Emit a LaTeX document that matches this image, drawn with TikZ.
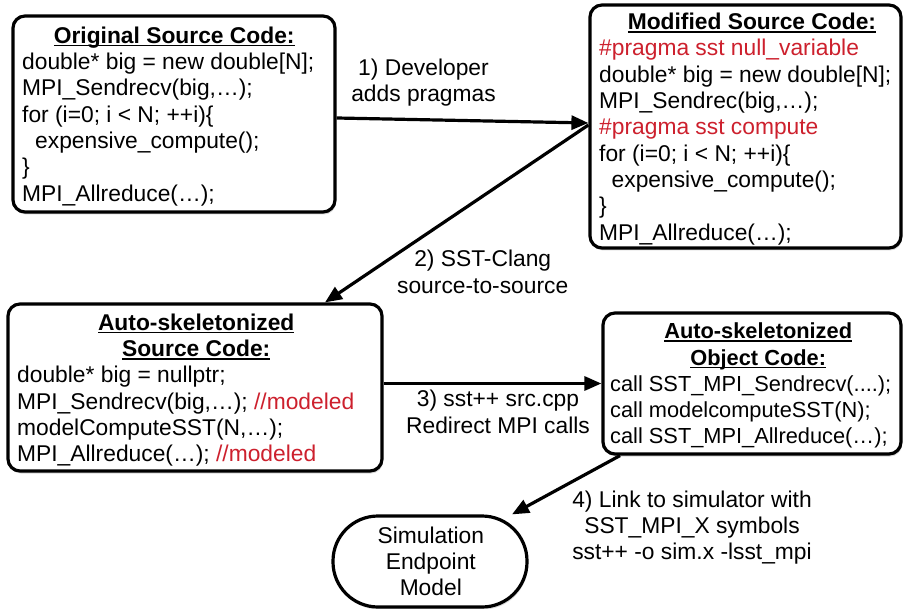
\documentclass[tikz,border=0pt]{standalone}
\usepackage{fontspec}
\setmainfont{Liberation Sans}
\usetikzlibrary{arrows.meta,shadows}
\definecolor{sstred}{RGB}{205,32,45}
\newcommand{\ultext}[1]{\setbox0\hbox{#1}\rlap{\rule[-3.2pt]{\wd0}{1.5pt}}\box0}
\begin{document}
\begin{tikzpicture}[x=1pt,y=-1pt,
  box/.style={draw=black, line width=3.2pt, rounded corners=12pt, fill=white, inner sep=0pt,
    drop shadow={shadow xshift=1pt, shadow yshift=-2.5pt, opacity=0.3}},
  code/.style={anchor=north west, inner sep=0pt, align=left, font=\fontsize{22.8}{26.3}\selectfont},
  lbl/.style={anchor=north, inner sep=0pt, align=center, font=\fontsize{22.8}{26.3}\selectfont},
  arr/.style={line width=3.2pt, -{Triangle[length=17pt,width=14pt]}}]
\fill[white] (0,0) rectangle (904,609);
\useasboundingbox (0,0) rectangle (904,609);

% boxes
\node[box, minimum width=322pt, minimum height=196pt] (orig) at (174,114) {};
\node[box, minimum width=311pt, minimum height=243pt] (mod) at (745.5,126.5) {};
\node[box, minimum width=374pt, minimum height=167pt] (skel) at (195,387.5) {};
\node[box, minimum width=298pt, minimum height=141pt] (obj) at (752,383.5) {};
\node[box, rounded corners=45pt, minimum width=194pt, minimum height=91pt] (sim) at (430,561.5) {};

% box texts
\node[code] (origtxt) at (22,24.6) {\strut\makebox[304pt]{\ultext{\bfseries Original Source Code:}}\\
\strut double* big = new double[N];\\
\strut MPI\_Sendrecv(big,…);\\
\strut for (i=0; i < N; ++i)\{\\
\strut\hspace*{13pt}expensive\_compute();\\
\strut\}\\
\strut MPI\_Allreduce(…);};

\node[code] (modtxt) at (599,11) {\strut\makebox[305.4pt]{\ultext{\bfseries Modified Source Code:}}\\
\strut\textcolor{sstred}{\#pragma sst null\_variable}\\
\strut double* big = new double[N];\\
\strut MPI\_Sendrec(big,…);\\
\strut\textcolor{sstred}{\#pragma sst compute}\\
\strut for (i=0; i < N; ++i)\{\\
\strut\hspace*{12.5pt}expensive\_compute();\\
\strut\}\\
\strut MPI\_Allreduce(…);};

\node[code] (skeltxt) at (17,311.6) {\strut\makebox[358pt]{\ultext{\bfseries Auto-skeletonized}}\\
\strut\makebox[358pt]{\ultext{\bfseries Source Code:}}\\
\strut double* big = nullptr;\\
\strut MPI\_Sendrecv(big,…); \textcolor{sstred}{//modeled}\\
\strut modelComputeSST(N,…);\\
\strut MPI\_Allreduce(…); \textcolor{sstred}{//modeled}};

\node[code, font=\fontsize{21.8}{26.3}\selectfont] (objtxt) at (610,320.1) {\strut\makebox[296pt]{\ultext{\bfseries Auto-skeletonized}}\\
\strut\makebox[296pt]{\ultext{\bfseries Object Code:}}\\
\strut call SST\_MPI\_Sendrecv(....);\\
\strut call modelcomputeSST(N);\\
\strut call SST\_MPI\_Allreduce(…);};

\node[lbl] (simtxt) at (430.8,524.6) {\strut Simulation\\\strut Endpoint\\\strut Model};

% arrow labels
\node[lbl] (l1) at (423.5,56.6) {\strut 1) Developer\\\strut adds pragmas};
\node[lbl] (l2) at (482.7,248.3) {\strut 2) SST-Clang\\\strut source-to-source};
\node[lbl] (l3) at (498,388.3) {\strut 3) sst++ src.cpp\\\strut Redirect MPI calls};
\node[lbl] (l4) at (692,488.6) {\strut 4) Link to simulator with\\\strut SST\_MPI\_X symbols\\\strut sst++ -o sim.x -lsst\_mpi};

% connectors
\draw[arr] ([yshift=-4pt]orig.east) -- ([yshift=3.5pt]mod.west);
\draw[arr] ([yshift=1.5pt]mod.west) -- ([xshift=130pt]skel.north);
\draw[arr] (skel.east |- obj.west) -- (obj.west);
\draw[arr] ([xshift=-132pt]obj.south) -- ([xshift=82pt]sim.north);
\end{tikzpicture}
\end{document}
